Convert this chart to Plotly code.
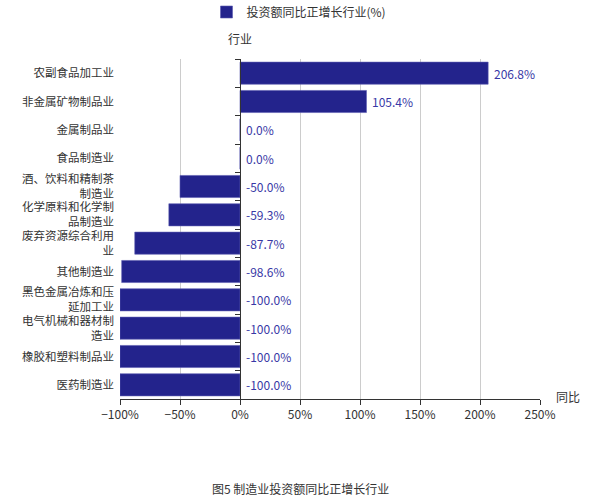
import plotly.graph_objects as go

categories = ["农副食品加工业", "非金属矿物制品业", "金属制品业", "食品制造业",
              "酒、饮料和精制茶制造业", "化学原料和化学制品制造业", "废弃资源综合利用业",
              "其他制造业", "黑色金属冶炼和压延加工业", "电气机械和器材制造业",
              "橡胶和塑料制品业", "医药制造业"]
tick_labels = ["农副食品加工业", "非金属矿物制品业", "金属制品业", "食品制造业",
               "酒、饮料和精制茶<br>制造业", "化学原料和化学制<br>品制造业", "废弃资源综合利用<br>业",
               "其他制造业", "黑色金属冶炼和压<br>延加工业", "电气机械和器材制<br>造业",
               "橡胶和塑料制品业", "医药制造业"]
values = [206.8, 105.4, 0.0, 0.0, -50.0, -59.3, -87.7, -98.6, -100.0, -100.0, -100.0, -100.0]

series_name = "投资额同比正增长行业(%)"
caption = "图5 制造业投资额同比正增长行业"

FONT = "Noto Sans CJK SC, Microsoft YaHei, sans-serif"
BAR = "#23238c"
LABEL = "#3838a6"

fig = go.Figure()
fig.add_trace(go.Bar(
    y=categories, x=values, orientation="h", name=series_name,
    marker=dict(color=BAR, line=dict(color="#5a5ab0", width=0.6)),
    showlegend=True,
))
# invisible trace on the second y axis so it draws its line and boundary ticks
fig.add_trace(go.Scatter(
    y=categories, x=[0] * len(categories), mode="markers",
    marker=dict(opacity=0, size=1), showlegend=False, hoverinfo="skip", yaxis="y2",
))

annotations = []
for c, v in zip(categories, values):
    annotations.append(dict(
        text=f"{v:.1f}%", xref="x", yref="y", x=max(v, 0), y=c,
        xanchor="left", yanchor="middle", xshift=4, showarrow=False,
        font=dict(color=LABEL, size=12, family=FONT),
    ))
annotations += [
    dict(text="行业", xref="x", x=0, yref="paper", y=1, yanchor="bottom",
         yshift=10, showarrow=False, font=dict(size=12, color="#333")),
    dict(text="同比", xref="paper", x=1, xanchor="left", xshift=14,
         yref="paper", y=0, yanchor="middle", yshift=3, showarrow=False,
         font=dict(size=12, color="#333")),
    dict(text=caption, xref="paper", x=(300 - 120) / 420, xanchor="center",
         yref="paper", y=0, yanchor="middle", yshift=-89, showarrow=False,
         font=dict(size=12, color="#333")),
]

n = len(categories)
fig.update_layout(
    width=600, height=500,
    margin=dict(l=120, r=60, t=59, b=101, autoexpand=False),
    paper_bgcolor="white", plot_bgcolor="white",
    font=dict(family=FONT, size=12, color="#333"),
    bargap=0.22,
    legend=dict(orientation="h", x=(299 - 120) / 420, xanchor="center",
                y=1 + (59 - 12) / 340, yanchor="middle",
                font=dict(size=12, color="#333")),
    xaxis=dict(range=[-100, 250], dtick=50, tick0=0, ticksuffix="%",
               showgrid=True, gridcolor="#cccccc", gridwidth=1,
               zeroline=False, showline=True, linecolor="#333", linewidth=1,
               ticks="outside", ticklen=5, tickcolor="#333",
               tickfont=dict(size=12, color="#333")),
    yaxis=dict(categoryorder="array", categoryarray=categories,
               tickvals=categories, ticktext=tick_labels,
               range=[n - 0.5, -0.5], autorange=False,
               showgrid=False, zeroline=False,
               showline=False, ticks="", ticklabelstandoff=5,
               tickfont=dict(size=11.5, color="#333")),
    yaxis2=dict(matches="y", overlaying="y", anchor="free",
                position=100 / 350, showticklabels=False, showgrid=False,
                zeroline=False, showline=True, linecolor="#333", linewidth=1,
                ticks="outside", ticklen=5, tickcolor="#333", tickson="boundaries"),
    annotations=annotations,
)

fig.write_html("out.html", config={"displayModeBar": False},
               post_script="document.body.style.margin='0';document.body.style.overflow='hidden';")
